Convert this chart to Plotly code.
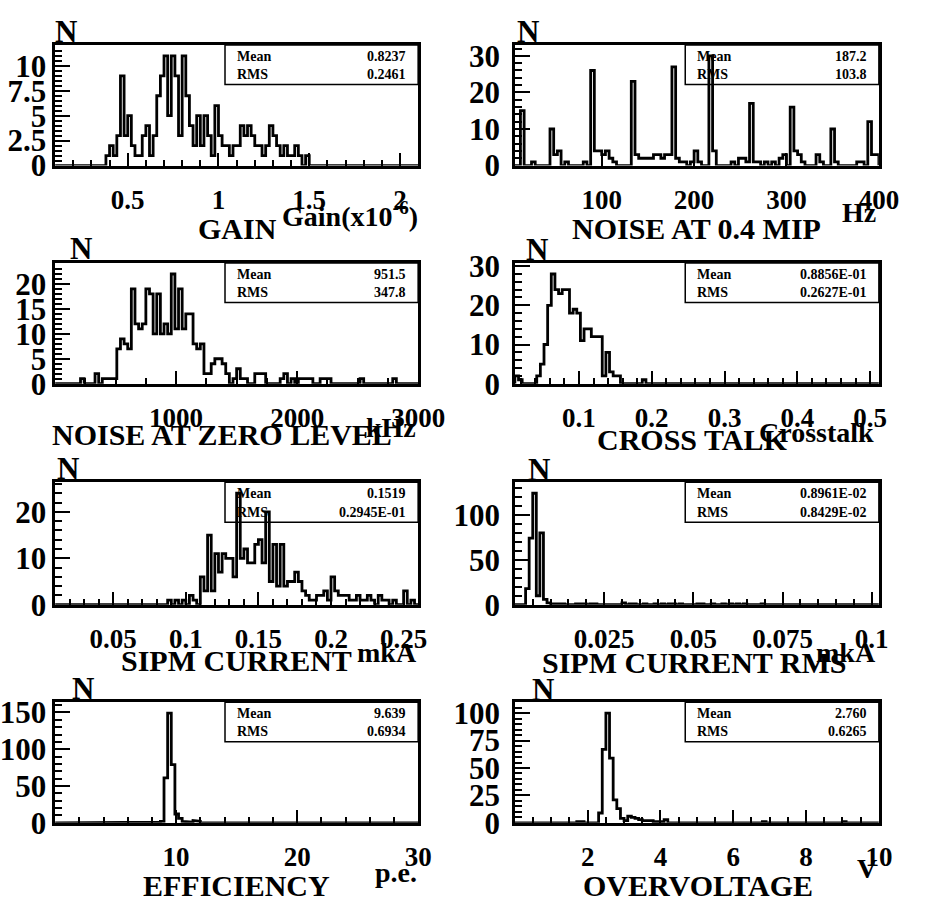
import numpy as np
import plotly.graph_objects as go

W, H = 926, 920
FONT = "Liberation Serif"

# ---------------- histogram contents (bin low edge -> entries) ----------------
# GAIN, bins of 0.02 starting at 0.38
gain_start, gain_bw = 0.38, 0.02
gain_counts = [1, 2, 1, 3, 9, 3, 5, 2, 1, 1,
               3, 4, 1, 3, 7, 9, 11, 5, 11, 9,
               3, 11, 7, 4, 2, 5, 2, 5, 3, 1,
               6, 3, 2, 2, 1, 2, 2, 4, 3, 4,
               3, 2, 2, 1, 2, 4, 3, 2, 1, 2,
               1, 1, 2, 1, 0, 1]

# NOISE AT 0.4 MIP, bins of 4 Hz
noise04_bw = 4
noise04_bins = [12, 24, 44, 48, 52, 60, 80, 88, 92, 96, 100, 104, 108, 112,
                132, 136, 140, 144, 148, 152, 156, 160, 164, 168, 172, 176, 180, 184,
                188, 196, 200, 204, 216, 220, 240, 248, 252, 256, 260, 264, 268,
                276, 284, 292, 296, 304, 308, 312, 316, 332, 336, 348, 352,
                376, 380, 388, 392, 396]
noise04_counts = [15, 1, 10, 3, 4, 1, 1, 26, 4, 4, 3, 4, 2, 1,
                  23, 3, 2, 2, 2, 2, 3, 3, 2, 3, 3, 27, 2, 1,
                  1, 1, 4, 1, 30, 4, 1, 2, 2, 1, 17, 1, 1,
                  1, 1, 2, 3, 16, 4, 3, 1, 3, 1, 10, 1,
                  1, 1, 12, 3, 3]

# NOISE AT ZERO LEVEL, bins of 30 kHz starting at 210
noise0_start, noise0_bw = 210, 30
noise0_counts = [1, 0, 0, 0, 2, 0, 1, 1, 1, 1,
                 7, 9, 8, 7, 19, 12, 11, 12, 19, 18,
                 10, 18, 10, 12, 10, 22, 11, 19, 11, 14,
                 14, 8, 7, 8, 2, 2, 4, 5, 5, 4,
                 2, 0, 1, 3, 1, 1, 0, 0, 2, 2, 2]
noise0_tail_bins = [1860, 1890, 1950, 2010, 2040, 2070, 2100, 2190, 2220, 2250, 2520, 2790]
noise0_tail_counts = [1, 2, 1, 1, 1, 1, 1, 1, 1, 1, 1, 1]

# CROSS TALK, bins of 0.005 starting at 0.012
xtalk_start, xtalk_bw = 0.012, 0.005
xtalk_counts = [2, 1, 0, 0, 0, 0, 2, 5, 10, 20,
                28, 24, 23, 24, 24, 18, 19, 18, 11, 14,
                14, 12, 12, 12, 2, 8, 3, 2, 2, 0,
                0, 0, 0, 0, 0, 1]

# SIPM CURRENT, bins of 0.0025 starting at 0.0875
icur_start, icur_bw = 0.0875, 0.0025
icur_counts = [1, 0, 1, 0, 1, 0, 2, 1, 0, 6,
               3, 15, 3, 11, 7, 11, 10, 10, 6, 24,
               10, 12, 9, 9, 13, 14, 9, 20, 5, 13,
               4, 13, 4, 5, 5, 7, 5, 3, 2, 1,
               1, 2, 2, 3, 1, 6, 3, 2, 2, 2,
               1, 1, 2, 1, 1, 2, 1, 0, 2, 1,
               1, 0, 1, 0, 0, 3, 0, 1]

# SIPM CURRENT RMS, bins of 0.001 starting at 0.003
irms_start, irms_bw = 0.003, 0.001
irms_counts = [18, 74, 124, 10, 80, 6, 2, 1, 1, 1,
               1, 0, 0, 0, 1, 1, 1, 0, 1, 1,
               0, 0, 0, 0, 0, 0, 0, 2, 0, 1,
               1, 0, 0, 1, 0, 0, 1, 0, 1, 0,
               1, 1, 0, 1, 0, 0, 0, 0, 1, 1,
               0, 0, 1, 0, 0, 1, 0, 1, 0, 1,
               0, 1, 0, 0, 0, 0, 1]

# EFFICIENCY, bins of 0.3 p.e. starting at 6.9
eff_start, eff_bw = 6.9, 0.3
eff_counts = [1, 0, 0, 0, 0, 1, 2, 61, 149, 79,
              12, 6, 2, 1, 1, 3, 2, 0, 0, 0,
              0, 0, 0, 1, 1, 1]
eff_tail_bins = [2.1]
eff_tail_counts = [1]

# OVERVOLTAGE, bins of 0.1 V starting at 1.7
ov_start, ov_bw = 1.7, 0.1
ov_counts = [1, 1, 0, 0, 0, 0, 9, 67, 100, 59,
             21, 13, 4, 2, 6, 5, 4, 3, 2, 2,
             2, 1, 1, 1, 3]
ov_tail_bins = [6.8, 9.0]
ov_tail_counts = [1, 1]

# statistics boxes and texts
titles = ["GAIN", "NOISE AT 0.4 MIP", "NOISE AT ZERO LEVEL", "CROSS TALK",
          "SIPM CURRENT", "SIPM CURRENT RMS", "EFFICIENCY", "OVERVOLTAGE"]
units = ["Gain(x10<sup>-6</sup>)", "Hz", "kHz", "Crosstalk", "mkA", "mkA", "p.e.", "V"]
means = ["0.8237", "187.2", "951.5", "0.8856E-01", "0.1519", "0.8961E-02", "9.639", "2.760"]
rmss = ["0.2461", "103.8", "347.8", "0.2627E-01", "0.2945E-01", "0.8429E-02", "0.6934", "0.6265"]

# axis definitions
x_ranges = [[0.1, 2.1], [6, 400], [0, 3000], [0.012, 0.512],
            [0.01, 0.26], [0.0, 0.102], [0, 30], [0, 10]]
x_major = [[0.5, 1, 1.5, 2], [100, 200, 300, 400], [1000, 2000, 3000],
           [0.1, 0.2, 0.3, 0.4, 0.5], [0.05, 0.1, 0.15, 0.2, 0.25],
           [0.025, 0.05, 0.075, 0.1], [10, 20, 30], [2, 4, 6, 8, 10]]
x_major_text = [["0.5", "1", "1.5", "2"], ["100", "200", "300", "400"],
                ["1000", "2000", "3000"], ["0.1", "0.2", "0.3", "0.4", "0.5"],
                ["0.05", "0.1", "0.15", "0.2", "0.25"], ["0.025", "0.05", "0.075", "0.1"],
                ["10", "20", "30"], ["2", "4", "6", "8", "10"]]
x_minor_step = [0.1, None, 250, 0.02, 0.01, 0.005, 2, 0.5]
y_max_entries = [11, 30, 22, 28, 24, 124, 149, 100]
y_major = [[0, 2.5, 5, 7.5, 10], [0, 10, 20, 30], [0, 5, 10, 15, 20], [0, 10, 20, 30],
           [0, 10, 20], [0, 50, 100], [0, 50, 100, 150], [0, 25, 50, 75, 100]]
y_major_text = [["0", "2.5", "5", "7.5", "10"], ["0", "10", "20", "30"],
                ["0", "5", "10", "15", "20"], ["0", "10", "20", "30"],
                ["0", "10", "20"], ["0", "50", "100"], ["0", "50", "100", "150"],
                ["0", "25", "50", "75", "100"]]
y_minor_step = [0.5, 2, 1, 2, 2, 10, 10, 5]


def make_hist(lo, hi, bw, segments):
    """Fill a regular binning with (start, counts) segments; return the outline."""
    n = int(round((hi - lo) / bw))
    h = np.zeros(n)
    for start, counts in segments:
        k0 = int(round((start - lo) / bw))
        for i, c in enumerate(counts):
            if 0 <= k0 + i < n:
                h[k0 + i] = c
    edges = lo + bw * np.arange(n + 1)
    xs = np.repeat(edges, 2)
    ys = np.concatenate([[0], np.repeat(h, 2), [0]])
    return xs, ys


def sparse(bins, counts):
    return [(b, [c]) for b, c in zip(bins, counts)]


hists = [
    make_hist(0.1, 2.1, gain_bw, [(gain_start, gain_counts)]),
    make_hist(4, 400, noise04_bw, sparse(noise04_bins, noise04_counts)),
    make_hist(0, 3000, noise0_bw, [(noise0_start, noise0_counts)]
              + sparse(noise0_tail_bins, noise0_tail_counts)),
    make_hist(0.012, 0.512, xtalk_bw, [(xtalk_start, xtalk_counts)]),
    make_hist(0.01, 0.26, icur_bw, [(icur_start, icur_counts)]),
    make_hist(0.0, 0.102, irms_bw, [(irms_start, irms_counts)]),
    make_hist(0, 30, eff_bw, [(eff_start, eff_counts)] + sparse(eff_tail_bins, eff_tail_counts)),
    make_hist(0, 10, ov_bw, [(ov_start, ov_counts)] + sparse(ov_tail_bins, ov_tail_counts)),
]

# frame boxes in pixels: (left, right, top, bottom)
frames = [(45, 424, 32, 157), (525, 905, 32, 157),
          (45, 424, 258, 383), (525, 905, 258, 383),
          (45, 424, 485, 612), (525, 905, 485, 612),
          (45, 424, 713, 838), (525, 905, 713, 838)]


def px(x):
    return x / W


def py(y):
    return 1 - y / H


def bold(s):
    return "<b>" + s + "</b>"


fig = go.Figure()
layout = dict(width=W, height=H, margin=dict(l=0, r=0, t=0, b=0),
              paper_bgcolor="white", plot_bgcolor="white", showlegend=False)
shapes, annotations = [], []

xtick_font = dict(family=FONT, size=27, color="black")
ytick_font = dict(family=FONT, size=31, color="black")

for i in range(8):
    sfx = "" if i == 0 else str(i + 1)
    xs, ys = hists[i]
    fig.add_trace(go.Scatter(x=xs, y=ys, mode="lines", xaxis="x" + sfx, yaxis="y" + sfx,
                             line=dict(color="black", width=2.8), hoverinfo="skip"))
    l, r, t, b = frames[i]
    xr = x_ranges[i]
    ymax = 1.1 * y_max_entries[i]
    xminor = dict(ticks="")
    if x_minor_step[i]:
        mv = np.arange(np.ceil(xr[0] / x_minor_step[i] - 1e-9) * x_minor_step[i],
                       xr[1] + 1e-9, x_minor_step[i])
        xminor = dict(tickmode="array", tickvals=list(mv), ticks="inside", ticklen=6,
                      tickwidth=2, tickcolor="black")
    ymv = np.arange(0, ymax, y_minor_step[i])
    left_col = (i % 2 == 0)
    layout["xaxis" + sfx] = dict(
        domain=[px(l), px(r)], range=xr, anchor="y" + sfx,
        showline=True, linecolor="black", linewidth=2.5, mirror=True,
        showgrid=False, zeroline=False,
        tickmode="array", tickvals=x_major[i], ticktext=[bold(s) for s in x_major_text[i]],
        ticks="inside", ticklen=13, tickwidth=2, tickcolor="black",
        tickfont=xtick_font, ticklabelstandoff=8, minor=xminor)
    layout["yaxis" + sfx] = dict(
        domain=[py(b), py(t)], range=[0, ymax], anchor="x" + sfx,
        showline=True, linecolor="black", linewidth=2.5, mirror=True,
        showgrid=False, zeroline=False,
        tickmode="array", tickvals=y_major[i], ticktext=[bold(s) for s in y_major_text[i]],
        ticks="inside", ticklen=15, tickwidth=2, tickcolor="black",
        tickfont=ytick_font, ticklabelstandoff=(0 if left_col else 6),
        minor=dict(tickmode="array", tickvals=list(ymv), ticks="inside", ticklen=7,
                   tickwidth=2, tickcolor="black"))

    # statistics box
    shapes.append(dict(type="rect", xref="x" + sfx + " domain", yref="y" + sfx + " domain",
                       x0=0.468, x1=1, y0=0.672, y1=1,
                       line=dict(color="black", width=1.5), fillcolor="rgba(0,0,0,0)"))
    stat_font = dict(family=FONT, size=14, color="black")
    for label, val, yy in (("Mean", means[i], 0.905), ("RMS", rmss[i], 0.755)):
        annotations.append(dict(xref="x" + sfx + " domain", yref="y" + sfx + " domain",
                                x=0.496, y=yy, text=bold(label), showarrow=False,
                                xanchor="left", yanchor="middle", font=stat_font))
        annotations.append(dict(xref="x" + sfx + " domain", yref="y" + sfx + " domain",
                                x=0.972, y=yy, text=bold(val), showarrow=False,
                                xanchor="right", yanchor="middle", font=stat_font))

# "N" labels above each frame
n_pos = [(56, 18), (539, 18), (72, 243), (548, 244), (58, 471), (550, 472), (74, 699), (554, 700)]
for (x, y) in n_pos:
    annotations.append(dict(xref="paper", yref="paper", x=px(x), y=py(y), text=bold("N"),
                            showarrow=False, xanchor="center", yanchor="middle",
                            font=dict(family=FONT, size=31, color="black")))

# unit labels under the x axes
unit_pos = [(426, 208), (904, 206), (424, 428), (902, 434), (425, 661), (904, 662), (425, 889), (905, 885)]
for (x, y), u in zip(unit_pos, units):
    annotations.append(dict(xref="paper", yref="paper", x=px(x), y=py(y), text=bold(u),
                            showarrow=False, xanchor="right", yanchor="middle",
                            font=dict(family=FONT, size=28, color="black")))

# histogram titles
title_pos = [(235, 222), (715, 222), (219, 436), (710, 441), (234, 670), (712, 672), (234, 903), (716, 903)]
for (x, y), ttl in zip(title_pos, titles):
    annotations.append(dict(xref="paper", yref="paper", x=px(x), y=py(y), text=bold(ttl),
                            showarrow=False, xanchor="center", yanchor="middle",
                            font=dict(family=FONT, size=30, color="black")))

layout["shapes"] = shapes
layout["annotations"] = annotations
fig.update_layout(**layout)
# page body without default margins so the figure fills the window exactly
fig.write_html("out.html",
               post_script="document.body.style.margin='0';document.body.style.overflow='hidden';")
